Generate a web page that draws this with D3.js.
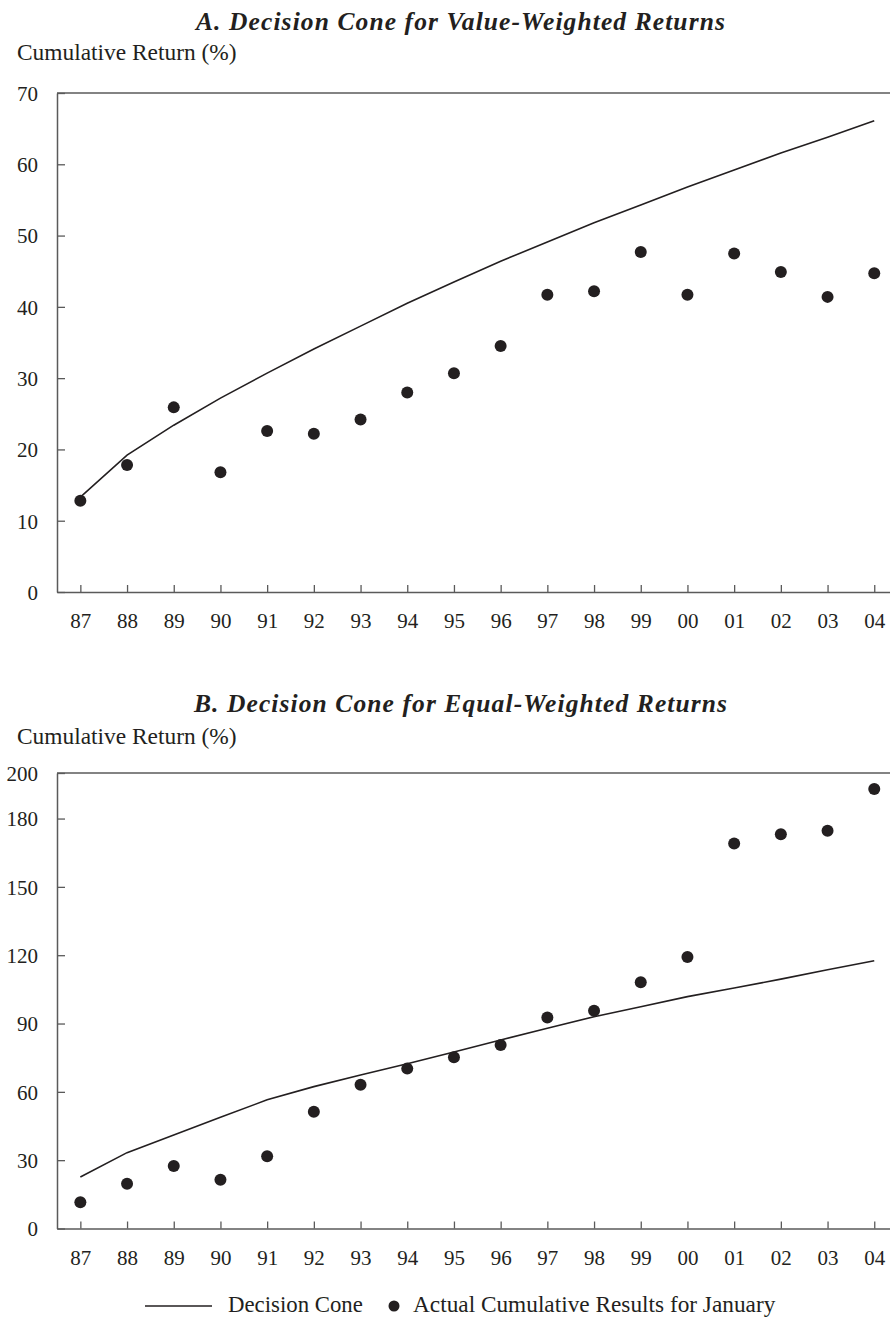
<!DOCTYPE html>
<html>
<head>
<meta charset="utf-8">
<script src="https://cdn.jsdelivr.net/npm/d3@7"></script>
<style>
  html, body { margin: 0; padding: 0; background: #fff; }
  svg { display: block; }
  text { font-family: "Liberation Serif", serif; fill: #231f20; }
</style>
</head>
<body>
<svg id="chart" width="890" height="1317"></svg>
<script>
// ---- data ----
const years = ["87","88","89","90","91","92","93","94","95","96","97","98","99","00","01","02","03","04"];

const coneValueWeighted   = [13.3, 19.2, 23.4, 27.2, 30.7, 34.1, 37.3, 40.5, 43.5, 46.4, 49.1, 51.8, 54.3, 56.8, 59.2, 61.6, 63.8, 66.1];
const actualValueWeighted = [12.8, 17.8, 25.9, 16.8, 22.6, 22.2, 24.2, 28.0, 30.7, 34.5, 41.7, 42.2, 47.7, 41.7, 47.5, 44.9, 41.4, 44.7];

const coneEqualWeighted   = [22.6, 33.3, 41.0, 48.8, 56.5, 62.3, 67.4, 72.3, 77.5, 82.8, 87.9, 93.0, 97.4, 101.8, 105.6, 109.5, 113.6, 117.6];
const actualEqualWeighted = [11.5, 19.7, 27.4, 21.4, 31.7, 51.3, 63.1, 70.2, 75.2, 80.6, 92.6, 95.6, 108.1, 119.2, 169.0, 173.1, 174.6, 193.0];

const ticksA = [0, 10, 20, 30, 40, 50, 60, 70];
const ticksB = [0, 30, 60, 90, 120, 150, 180, 200];

const titleA = "A. Decision Cone for Value-Weighted Returns";
const titleB = "B. Decision Cone for Equal-Weighted Returns";
const yLabel = "Cumulative Return (%)";
const legendLine = "Decision Cone";
const legendDot = "Actual Cumulative Results for January";

// ---- drawing ----
const FONT = '"Liberation Serif", serif';
const svg = d3.select("#chart");
const INK = "#231f20";
const AXIS = "#5a5a5a";
const left = 57, stepW = 46.7;

const x = d3.scalePoint().domain(years).range([left, left + stepW * 18]).padding(0.5);

function panel(cfg) {
  const y = d3.scaleLinear().domain(cfg.domain).range([cfg.bottom, cfg.top]);
  const g = svg.append("g");

  g.append("text").attr("x", 461).attr("y", cfg.titleY)
    .attr("text-anchor", "middle")
    .style("font-family", FONT)
    .style("font-size", "25.5px").style("font-weight", "bold").style("font-style", "italic")
    .style("letter-spacing", "1.1px")
    .text(cfg.title);

  g.append("text").attr("x", 17).attr("y", cfg.labelY)
    .style("font-family", FONT)
    .style("font-size", "23.4px")
    .text(yLabel);

  // top border
  g.append("line").attr("x1", left).attr("x2", 890)
    .attr("y1", y(cfg.domain[1])).attr("y2", y(cfg.domain[1]))
    .attr("stroke", AXIS).attr("stroke-width", 1.5);

  // y axis
  const ya = g.append("g").attr("transform", `translate(${left},0)`)
    .call(d3.axisLeft(y).tickValues(cfg.ticks).tickSize(-8).tickPadding(19).tickSizeOuter(0).tickFormat(d3.format("d")));
  ya.attr("font-family", null).attr("font-size", null);
  ya.select(".domain").attr("stroke", AXIS).attr("stroke-width", 1.5);
  ya.selectAll(".tick line").attr("stroke", AXIS).attr("stroke-width", 1.3);
  ya.selectAll(".tick text").attr("fill", INK).style("font-size", "21px").attr("dy", "0.35em")
    .style("font-family", FONT);

  // x axis
  const xa = g.append("g").attr("transform", `translate(0,${cfg.bottom})`)
    .call(d3.axisBottom(x).tickSize(-7).tickSizeOuter(0));
  xa.attr("font-family", null).attr("font-size", null);
  xa.select(".domain").attr("stroke", AXIS).attr("stroke-width", 1.5);
  xa.selectAll(".tick line").attr("stroke", AXIS).attr("stroke-width", 1.3);
  xa.selectAll(".tick text").attr("fill", INK).style("font-size", "21px")
    .attr("y", 36).attr("dy", 0)
    .style("font-family", FONT);

  // cone line
  const line = d3.line().x((d, i) => x(years[i])).y(d => y(d));
  g.append("path").datum(cfg.cone).attr("d", line)
    .attr("fill", "none").attr("stroke", INK).attr("stroke-width", 1.6);

  // dots
  g.selectAll("circle.dot").data(cfg.actual).join("circle")
    .attr("class", "dot")
    .attr("cx", (d, i) => x(years[i])).attr("cy", d => y(d)).attr("r", 6)
    .attr("fill", INK);
}

panel({ title: titleA, titleY: 30, labelY: 60, domain: [0, 70], top: 93, bottom: 592,
        ticks: ticksA, cone: coneValueWeighted, actual: actualValueWeighted });
panel({ title: titleB, titleY: 712, labelY: 744, domain: [0, 200], top: 773, bottom: 1228.5,
        ticks: ticksB, cone: coneEqualWeighted, actual: actualEqualWeighted });

// legend
const lg = svg.append("g");
lg.append("line").attr("x1", 145).attr("x2", 212).attr("y1", 1306).attr("y2", 1306)
  .attr("stroke", INK).attr("stroke-width", 1.6);
lg.append("text").attr("x", 228).attr("y", 1312).style("font-family", FONT).style("font-size", "22.8px").text(legendLine);
lg.append("circle").attr("cx", 394).attr("cy", 1306).attr("r", 5.5).attr("fill", INK);
lg.append("text").attr("x", 413).attr("y", 1312).style("font-family", FONT).style("font-size", "23.3px").text(legendDot);
</script>
</body>
</html>
